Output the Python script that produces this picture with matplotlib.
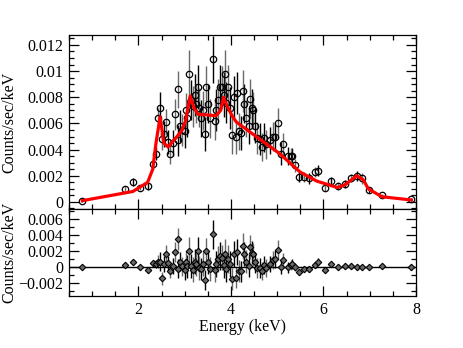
import numpy as np
import matplotlib
matplotlib.use("Agg")
import matplotlib.pyplot as plt
from matplotlib.ticker import MultipleLocator

# spectrum: energy (keV), counts/sec/keV, error, residual
energy = [0.79, 1.72, 1.88, 2.04, 2.20, 2.31, 2.38, 2.43, 2.47, 2.50,
          2.56, 2.60, 2.63, 2.69, 2.74, 2.79, 2.85, 2.86, 2.90, 2.95,
          3.00, 3.02, 3.06, 3.10, 3.14, 3.18, 3.22, 3.25, 3.28, 3.32,
          3.36, 3.40, 3.45, 3.47, 3.50, 3.55, 3.61, 3.65, 3.68, 3.72,
          3.77, 3.81, 3.84, 3.87, 3.90, 3.93, 3.99, 4.02, 4.06, 4.10,
          4.14, 4.17, 4.22, 4.26, 4.28, 4.33, 4.38, 4.42, 4.45, 4.48,
          4.51, 4.56, 4.62, 4.67, 4.71, 4.75, 4.84, 4.90, 4.95, 5.01,
          5.08, 5.13, 5.23, 5.29, 5.33, 5.39, 5.47, 5.58, 5.69, 5.81,
          5.89, 6.03, 6.17, 6.32, 6.46, 6.60, 6.72, 6.83, 6.98, 7.26,
          7.90]
counts = [0.0001, 0.0010, 0.0015, 0.0011, 0.0012, 0.0029, 0.0037, 0.0064, 0.0072, 0.0048,
          0.0052, 0.0061, 0.0046, 0.0037, 0.0045, 0.0067, 0.0047, 0.0086, 0.0058, 0.0055,
          0.0054, 0.0070, 0.0064, 0.0098, 0.0078, 0.0073, 0.0082, 0.0075, 0.0088, 0.0072,
          0.0064, 0.0070, 0.0052, 0.0088, 0.0075, 0.0064, 0.0109, 0.0062, 0.0070, 0.0078,
          0.0088, 0.0088, 0.0082, 0.0098, 0.0076, 0.0088, 0.0072, 0.0051, 0.0080, 0.0050,
          0.0083, 0.0054, 0.0053, 0.0085, 0.0075, 0.0064, 0.0058, 0.0079, 0.0072, 0.0070,
          0.0058, 0.0049, 0.0048, 0.0042, 0.0049, 0.0044, 0.0047, 0.0050, 0.0050, 0.0060,
          0.0037, 0.0044, 0.0035, 0.0035, 0.0035, 0.0028, 0.0019, 0.0019, 0.0018, 0.0023,
          0.0024, 0.0011, 0.0016, 0.0012, 0.0014, 0.0018, 0.0020, 0.0018, 0.0009, 0.0005,
          0.0002]
errors = [0.0001, 0.0002, 0.0003, 0.0002, 0.0003, 0.0004, 0.0005, 0.0008, 0.0012, 0.0008,
          0.0010, 0.0010, 0.0009, 0.0008, 0.0010, 0.0012, 0.0012, 0.0014, 0.0012, 0.0012,
          0.0013, 0.0013, 0.0014, 0.0018, 0.0015, 0.0016, 0.0016, 0.0015, 0.0017, 0.0015,
          0.0014, 0.0015, 0.0013, 0.0016, 0.0015, 0.0015, 0.0018, 0.0015, 0.0016, 0.0016,
          0.0017, 0.0016, 0.0017, 0.0018, 0.0016, 0.0017, 0.0016, 0.0014, 0.0016, 0.0013,
          0.0016, 0.0014, 0.0013, 0.0016, 0.0015, 0.0014, 0.0014, 0.0015, 0.0014, 0.0014,
          0.0013, 0.0012, 0.0012, 0.0011, 0.0011, 0.0011, 0.0010, 0.0011, 0.0011, 0.0012,
          0.0009, 0.0009, 0.0007, 0.0006, 0.0006, 0.0005, 0.0004, 0.0004, 0.0004, 0.0004,
          0.0004, 0.0003, 0.0003, 0.0003, 0.0003, 0.0003, 0.0004, 0.0004, 0.0002, 0.0001,
          0.0001]
resid = [0.0, 0.0003, 0.0007, 0.0, -0.0004, 0.0005, 0.0004, 0.0007, 0.0007, -0.0014,
         0.0004, 0.0017, 0.0005, -0.0005, 0.0001, 0.0019, -0.0002, 0.0035, 0.0007, 0.0001,
         -0.0003, 0.0007, 0.0001, 0.0020, 0.0002, -0.0003, 0.0007, 0.0004, 0.0020, -0.0001,
         -0.0002, 0.0004, -0.0016, 0.0020, 0.0007, -0.0002, 0.0041, -0.0004, 0.0004, 0.0010,
         0.0014, 0.0012, 0.0003, 0.0017, -0.0002, 0.0010, 0.0004, -0.0015, 0.0016, -0.0013,
         0.0019, -0.0005, -0.0005, 0.0026, 0.0016, 0.0007, 0.0002, 0.0025, 0.0018, 0.0016,
         0.0006, -0.0001, -0.0001, -0.0005, 0.0003, -0.0001, 0.0004, 0.0009, 0.0010, 0.0022,
         0.0, 0.0009, 0.0, 0.0003, 0.0004, 0.0, -0.0006, -0.0002, -0.0002, 0.0003,
         0.0007, -0.0004, 0.0004, 0.0, 0.0001, 0.0001, 0.0, 0.0, 0.0, 0.0001,
         0.0]

# model curve
model_e = [0.79, 1.88, 2.20, 2.31, 2.38, 2.47, 2.55, 2.64, 2.93, 3.02, 3.12, 3.20,
           3.29, 3.68, 3.78, 3.84, 3.92, 4.04, 4.12, 5.05, 5.49, 5.85, 6.30, 6.46,
           6.72, 6.86, 6.97, 7.26, 7.90]
model_y = [0.0001, 0.0008, 0.0015, 0.0025, 0.0045, 0.0065, 0.0045, 0.0042, 0.0054, 0.0062,
           0.0081, 0.0072, 0.0067, 0.0066, 0.0070, 0.0080, 0.0073, 0.0065, 0.0061, 0.0037,
           0.0023, 0.0016, 0.0011, 0.0013, 0.0020, 0.0017, 0.0010, 0.0004, 0.00015]

plt.rcParams['font.family'] = ['Liberation Serif', 'DejaVu Serif']
plt.rcParams['font.size'] = 11.5

fig = plt.figure(figsize=(4.63, 3.48), dpi=100)
ax1 = fig.add_axes([0.149, 0.3994, 0.7495, 0.5])
ax2 = fig.add_axes([0.149, 0.1494, 0.7495, 0.25], sharex=ax1)

energy = np.array(energy)
counts = np.array(counts)
errors = np.array(errors)
resid = np.array(resid)

# alternate black / gray error bars like the two data groups
for i, col in enumerate(["black", "dimgray"]):
    sel = slice(i, None, 2)
    ax1.errorbar(energy[sel], counts[sel], yerr=errors[sel], fmt="none",
                 ecolor=col, elinewidth=1.0)
    ax2.errorbar(energy[sel], resid[sel], yerr=errors[sel], fmt="none",
                 ecolor=col, elinewidth=1.0)

ax1.plot(energy, counts, "o", mfc="none", mec="black", ms=4.6, mew=0.9)
ax1.plot(model_e, model_y, color="red", lw=2.3, zorder=5)

ax2.axhline(0, color="black", lw=1.0)
ax2.plot(energy, resid, "D", mfc="dimgray", mec="black", ms=3.3, mew=0.8)

ax1.set_xlim(0.5, 8)
ax1.set_ylim(-0.00054, 0.01276)
ax2.set_ylim(-0.0036, 0.00725)

ax1.set_yticks([0, 0.002, 0.004, 0.006, 0.008, 0.01, 0.012])
ax1.set_yticklabels(["0", "0.002", "0.004", "0.006", "0.008", "0.01", "0.012"])
ax1.yaxis.set_minor_locator(MultipleLocator(0.0005))
ax2.set_yticks([-0.002, 0, 0.002, 0.004, 0.006])
ax2.set_yticklabels(["\u22120.002", "0", "0.002", "0.004", "0.006"])
ax2.yaxis.set_minor_locator(MultipleLocator(0.001))
ax2.xaxis.set_major_locator(MultipleLocator(2))
ax2.xaxis.set_minor_locator(MultipleLocator(0.5))

for ax in (ax1, ax2):
    ax.tick_params(which="both", direction="in", top=True, right=True)
    ax.tick_params(which="major", length=7, width=0.9, pad=4)
    ax.tick_params(which="minor", length=3.5, width=0.9)
    for s in ax.spines.values():
        s.set_linewidth(0.9)
    ax.set_ylabel("Counts/sec/keV")
    ax.yaxis.set_label_coords(-0.15, 0.5)

plt.setp(ax1.get_xticklabels(), visible=False)
ax2.set_xlabel("Energy (keV)", labelpad=1)

fig.savefig("out.png", dpi=100)
